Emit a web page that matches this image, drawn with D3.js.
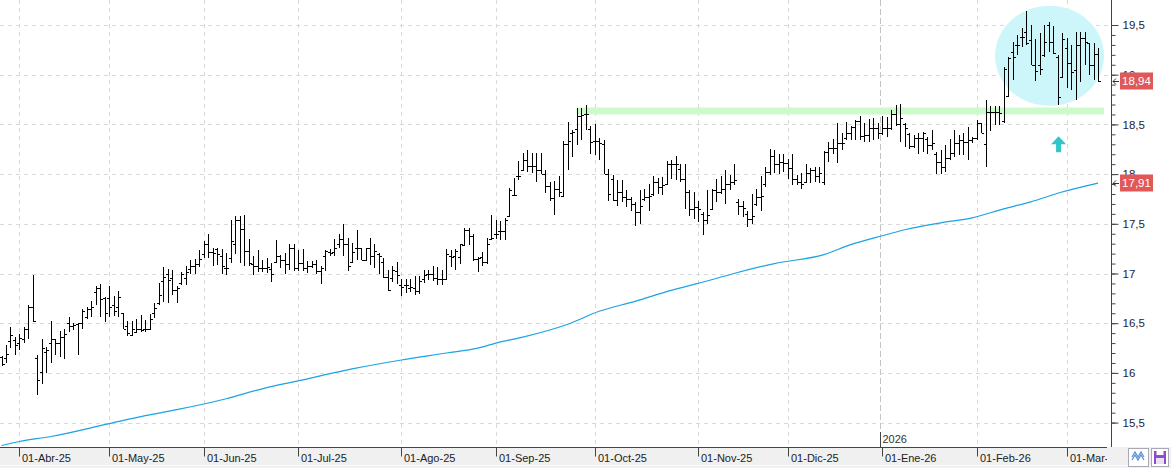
<!DOCTYPE html>
<html lang="es">
<head>
<meta charset="utf-8">
<title>Grafico de barras diario</title>
<script src="https://cdn.jsdelivr.net/npm/d3@7"></script>
<style>
body { margin: 0; background: #fff; }
svg { display: block; font-family: "Liberation Sans", Arial, sans-serif; }
</style>
</head>
<body>
<script>
// sesiones: dias laborables entre estas fechas, sin festivos
var firstDay = "2025-03-26";
var lastDay = "2026-03-11";
var holidays = ["2025-04-18", "2025-04-21", "2025-05-01", "2025-12-25", "2025-12-26", "2026-01-01"];
var monthNames = ["Ene", "Feb", "Mar", "Abr", "May", "Jun", "Jul", "Ago", "Sep", "Oct", "Nov", "Dic"];

var open = [
  16.16,16.15,16.32,16.33,16.30,16.34,16.44,16.66,16.15,16.01,
  16.21,16.30,16.34,16.30,16.36,16.50,16.47,16.49,16.50,16.56,
  16.64,16.81,16.85,16.75,16.75,16.68,16.66,16.60,16.47,16.38,
  16.41,16.44,16.44,16.44,16.60,16.70,16.92,17.00,16.95,16.83,
  16.90,16.95,17.05,17.08,17.10,17.20,17.30,17.22,17.25,17.18,
  17.06,17.16,17.30,17.54,17.45,17.23,17.10,17.08,17.06,17.06,
  17.05,17.12,17.18,17.14,17.10,17.26,17.06,17.11,17.06,17.08,
  17.10,17.03,17.18,17.22,17.22,17.30,17.35,17.30,17.12,17.26,
  17.26,17.14,17.26,17.18,17.20,17.12,16.96,16.95,17.03,16.88,
  16.88,16.85,16.85,16.82,16.94,17.00,17.00,16.95,16.94,16.94,
  17.18,17.18,17.17,17.29,17.44,17.38,17.15,17.17,17.12,17.35,
  17.40,17.43,17.43,17.58,17.79,17.98,18.04,18.14,18.08,18.08,
  18.04,18.00,17.88,17.76,17.85,17.78,18.30,18.41,18.45,18.58,
  18.60,18.45,18.33,18.33,18.30,18.00,17.95,17.74,17.82,17.77,
  17.75,17.70,17.62,17.75,17.77,17.80,17.92,17.87,17.90,18.10,
  18.10,18.05,17.95,17.82,17.65,17.67,17.60,17.54,17.65,17.84,
  17.82,17.85,17.90,17.92,17.72,17.68,17.60,17.55,17.70,17.77,
  17.90,18.02,18.18,18.10,18.12,18.11,18.06,17.95,17.92,17.92,
  18.01,18.04,17.98,17.92,18.22,18.26,18.26,18.31,18.36,18.41,
  18.47,18.53,18.38,18.39,18.46,18.46,18.41,18.46,18.46,18.60,
  18.50,18.50,18.40,18.28,18.36,18.36,18.35,18.29,18.20,18.12,
  18.07,18.16,18.21,18.31,18.34,18.32,18.34,18.36,18.51,18.30,
  18.62,18.62,18.62,18.53,18.79,19.23,19.30,19.38,19.43,19.35,
  19.10,19.10,19.20,19.50,19.33,19.18,18.98,19.27,19.12,19.05,
  19.30,19.37,19.32,19.10,19.21
];
var high = [
  16.17,16.28,16.46,16.36,16.39,16.46,16.68,16.98,16.18,16.34,
  16.26,16.52,16.34,16.42,16.44,16.56,16.50,16.50,16.64,16.66,
  16.72,16.87,16.89,16.76,16.87,16.77,16.82,16.60,16.52,16.52,
  16.54,16.58,16.53,16.59,16.70,16.90,17.07,17.05,17.04,16.87,
  17.02,17.08,17.14,17.15,17.24,17.33,17.40,17.26,17.26,17.25,
  17.21,17.54,17.58,17.58,17.59,17.35,17.18,17.24,17.14,17.16,
  17.11,17.34,17.19,17.21,17.30,17.30,17.24,17.25,17.13,17.13,
  17.14,17.08,17.24,17.25,17.35,17.40,17.50,17.36,17.31,17.44,
  17.26,17.26,17.36,17.30,17.21,17.16,17.04,17.08,17.12,16.94,
  16.94,16.94,16.97,16.97,17.04,17.04,17.08,17.07,17.04,17.25,
  17.24,17.25,17.30,17.46,17.46,17.40,17.17,17.22,17.36,17.59,
  17.54,17.53,17.56,17.86,17.96,18.13,18.21,18.24,18.21,18.21,
  18.21,18.04,17.92,17.93,17.98,18.33,18.52,18.44,18.66,18.66,
  18.70,18.48,18.50,18.36,18.34,18.05,17.99,17.94,17.94,17.84,
  17.77,17.72,17.84,17.85,17.90,17.98,17.96,17.97,18.13,18.14,
  18.18,18.10,18.10,17.84,17.82,17.73,17.62,17.84,17.85,17.95,
  17.98,18.04,17.99,18.10,17.75,17.73,17.63,17.80,17.85,17.98,
  18.07,18.25,18.24,18.20,18.20,18.15,18.20,17.99,18.01,18.10,
  18.06,18.07,18.07,18.23,18.32,18.35,18.51,18.41,18.52,18.48,
  18.54,18.58,18.51,18.55,18.56,18.51,18.58,18.57,18.64,18.70,
  18.71,18.51,18.41,18.39,18.41,18.42,18.37,18.44,18.22,18.24,
  18.29,18.35,18.44,18.39,18.41,18.47,18.37,18.54,18.51,18.75,
  18.69,18.69,18.69,19.08,19.18,19.33,19.40,19.47,19.64,19.50,
  19.36,19.42,19.50,19.53,19.49,19.20,19.42,19.37,19.30,19.43,
  19.43,19.43,19.32,19.32,19.27
];
var low = [
  16.07,16.10,16.25,16.18,16.23,16.30,16.34,16.51,15.78,15.89,
  16.00,16.10,16.18,16.16,16.14,16.41,16.43,16.18,16.44,16.54,
  16.56,16.68,16.56,16.51,16.56,16.57,16.56,16.44,16.37,16.37,
  16.41,16.41,16.41,16.44,16.55,16.68,16.71,16.70,16.78,16.70,
  16.88,16.88,17.00,17.00,17.07,17.16,17.16,17.08,17.09,16.99,
  16.98,17.11,17.20,17.11,17.08,17.08,16.98,17.02,17.02,17.01,
  16.91,17.11,17.06,16.99,17.04,17.03,17.03,17.03,17.01,17.06,
  17.00,16.89,17.03,17.18,17.18,17.26,17.18,17.03,17.11,17.14,
  17.14,17.14,17.09,17.06,17.00,16.95,16.82,16.91,16.89,16.77,
  16.80,16.81,16.78,16.79,16.90,16.93,16.92,16.88,16.88,16.93,
  17.07,17.04,17.10,17.29,17.29,17.13,17.02,17.08,17.10,17.34,
  17.35,17.34,17.34,17.57,17.78,17.94,18.04,18.02,18.01,17.92,
  18.00,17.81,17.73,17.59,17.77,17.77,18.04,18.17,18.29,18.34,
  18.44,18.20,18.19,18.14,18.00,17.73,17.73,17.68,17.72,17.67,
  17.63,17.48,17.50,17.73,17.63,17.78,17.80,17.79,17.90,17.95,
  17.94,17.92,17.65,17.58,17.55,17.52,17.39,17.50,17.65,17.72,
  17.80,17.70,17.84,17.89,17.59,17.57,17.47,17.50,17.68,17.63,
  17.87,17.99,18.01,18.00,18.02,17.95,17.89,17.89,17.85,17.92,
  17.91,17.92,17.91,17.89,18.12,18.20,18.11,18.24,18.34,18.34,
  18.34,18.34,18.32,18.32,18.34,18.35,18.39,18.37,18.44,18.48,
  18.32,18.27,18.25,18.26,18.20,18.22,18.20,18.24,18.00,18.00,
  18.02,18.14,18.17,18.19,18.19,18.14,18.31,18.34,18.41,18.07,
  18.43,18.49,18.49,18.51,18.79,18.95,19.20,19.28,19.30,19.10,
  18.94,19.00,19.18,19.23,19.21,18.70,18.97,18.87,18.85,18.75,
  18.93,19.10,19.00,18.95,18.93
];
var close = [
  16.09,16.19,16.38,16.28,16.35,16.44,16.66,16.52,15.93,16.25,
  16.23,16.34,16.30,16.36,16.39,16.47,16.48,16.50,16.62,16.64,
  16.66,16.85,16.74,16.60,16.66,16.62,16.76,16.44,16.40,16.44,
  16.44,16.43,16.44,16.54,16.65,16.78,16.96,16.93,16.83,16.85,
  16.99,17.02,17.08,17.10,17.15,17.30,17.22,17.21,17.20,17.08,
  17.06,17.33,17.54,17.45,17.23,17.11,17.08,17.06,17.06,17.07,
  17.00,17.18,17.14,17.10,17.26,17.06,17.11,17.06,17.08,17.10,
  17.03,17.06,17.23,17.21,17.26,17.35,17.30,17.08,17.22,17.26,
  17.14,17.26,17.18,17.23,17.18,16.96,16.83,17.04,16.98,16.86,
  16.88,16.86,16.82,16.92,16.98,17.00,16.95,16.94,16.94,17.20,
  17.17,17.23,17.30,17.44,17.38,17.15,17.16,17.12,17.30,17.36,
  17.40,17.43,17.54,17.84,17.79,17.98,18.14,18.08,18.08,18.04,
  18.00,17.88,17.76,17.85,17.82,18.30,18.33,18.42,18.58,18.59,
  18.60,18.32,18.33,18.31,18.00,17.80,17.74,17.82,17.77,17.75,
  17.70,17.62,17.68,17.77,17.78,17.92,17.87,17.89,18.10,18.10,
  18.10,17.95,17.82,17.65,17.67,17.65,17.54,17.59,17.84,17.82,
  17.85,17.90,17.92,17.94,17.68,17.66,17.55,17.58,17.77,17.78,
  18.02,18.18,18.10,18.12,18.11,18.06,17.95,17.92,17.90,18.01,
  18.04,17.98,18.01,18.22,18.26,18.26,18.31,18.31,18.41,18.47,
  18.53,18.38,18.39,18.46,18.46,18.41,18.46,18.46,18.60,18.50,
  18.56,18.46,18.28,18.36,18.36,18.41,18.29,18.31,18.12,18.07,
  18.16,18.21,18.31,18.34,18.32,18.34,18.36,18.51,18.41,18.62,
  18.62,18.62,18.61,19.06,19.17,19.18,19.30,19.38,19.32,19.10,
  19.04,19.06,19.33,19.33,19.22,18.78,19.36,19.12,19.03,19.30,
  19.37,19.33,19.10,19.21,18.94
];

var maSession = [0, 4, 11, 24, 32, 39, 50, 58, 66, 78, 89, 99, 106, 110, 116, 126, 133, 141, 149, 155, 163, 172, 183, 189, 196, 201, 209, 216, 223, 229, 236, 244];
var maValue = [15.27, 15.31, 15.36, 15.49, 15.57, 15.63, 15.74, 15.84, 15.92, 16.04, 16.13, 16.20, 16.25, 16.30, 16.36, 16.49, 16.62, 16.72, 16.83, 16.90, 17.00, 17.10, 17.19, 17.29, 17.38, 17.44, 17.51, 17.56, 17.65, 17.72, 17.82, 17.91];

var yTicks = [15.5, 16, 16.5, 17, 17.5, 18, 18.5, 19, 19.5];
var resistance = [18.60, 18.67];

var w = 1171, h = 468;
var plotRight = 1111, plotBottom = 447;

// fechas de sesion
var parse = d3.timeParse("%Y-%m-%d"), fmt = d3.timeFormat("%Y-%m-%d");
var dates = [];
d3.timeDay.range(parse(firstDay), d3.timeDay.offset(parse(lastDay), 1)).forEach(function(d) {
  var wd = d.getDay();
  if (wd !== 0 && wd !== 6 && holidays.indexOf(fmt(d)) < 0) dates.push(fmt(d));
});

var bars = dates.map(function(d, i) {
  return { date: d, o: open[i], h: high[i], l: low[i], c: close[i] };
});

// primera sesion de cada mes
var monthStarts = dates.filter(function(d, i) {
  return i > 0 && d.slice(5, 7) !== dates[i - 1].slice(5, 7);
});

var x = d3.scalePoint().domain(dates).range([1.5, 1098]);
var y = d3.scaleLinear().domain([15.5, 19.5]).range([422.6, 25]);
var px = function(d) { return Math.round(x(d)) + 0.5; };

var svg = d3.select("body").append("svg")
  .attr("width", w)
  .attr("height", h);

svg.append("rect").attr("width", w).attr("height", h).attr("fill", "#fff");

svg.append("clipPath").attr("id", "plot")
  .append("rect").attr("x", 0).attr("y", 0).attr("width", plotRight).attr("height", plotBottom);

var plot = svg.append("g").attr("clip-path", "url(#plot)");

// rejilla
plot.selectAll("line.hgrid")
  .data(yTicks)
  .enter().append("line")
  .attr("class", "hgrid")
  .attr("x1", 0).attr("x2", plotRight)
  .attr("y1", function(d) { return Math.round(y(d)) + 0.5; })
  .attr("y2", function(d) { return Math.round(y(d)) + 0.5; })
  .attr("stroke", "#d9d9d9")
  .attr("stroke-dasharray", "4,4");

plot.selectAll("line.vgrid")
  .data(monthStarts.filter(function(d) { return d.slice(5, 7) !== "01"; }))
  .enter().append("line")
  .attr("class", "vgrid")
  .attr("x1", px)
  .attr("x2", px)
  .attr("y1", 0).attr("y2", plotBottom)
  .attr("stroke", "#d9d9d9")
  .attr("stroke-dasharray", "4,4");

// separador de año
var yearStart = monthStarts.filter(function(d) { return d.slice(5, 7) === "01"; })[0];
var xYear = Math.round(x(yearStart)) - 1.5;
plot.append("line")
  .attr("x1", xYear).attr("x2", xYear)
  .attr("y1", 0).attr("y2", plotBottom)
  .attr("stroke", "#c4c4c4")
  .attr("stroke-dasharray", "6,3");
plot.append("line")
  .attr("x1", xYear).attr("x2", xYear)
  .attr("y1", plotBottom - 15).attr("y2", plotBottom)
  .attr("stroke", "#444");
plot.append("text")
  .attr("x", xYear + 2).attr("y", plotBottom - 4)
  .attr("font-size", "11px")
  .attr("fill", "#333")
  .text(yearStart.slice(0, 4));

// zona de resistencia y circulo
plot.append("rect")
  .attr("x", x(dates[128]))
  .attr("width", plotRight - 7 - x(dates[128]))
  .attr("y", y(resistance[1]))
  .attr("height", y(resistance[0]) - y(resistance[1]))
  .attr("fill", "#ccfacb");

plot.append("ellipse")
  .attr("cx", x(dates[233]) + 1)
  .attr("cy", y(19.19))
  .attr("rx", 54.5).attr("ry", 50)
  .attr("fill", "#ccf6fa");

// media movil
plot.append("path")
  .datum(maSession)
  .attr("fill", "none")
  .attr("stroke", "#1ba3e4")
  .attr("stroke-width", 1.2)
  .attr("d", d3.line()
    .curve(d3.curveMonotoneX)
    .x(function(d) { return x(dates[d]); })
    .y(function(d, i) { return y(maValue[i]); }));

// barras OHLC
var bar = plot.selectAll("g.bar")
  .data(bars)
  .enter().append("g")
  .attr("class", "bar")
  .attr("stroke", "#000")
  .attr("shape-rendering", "crispEdges");

bar.append("line")
  .attr("x1", function(d) { return px(d.date); })
  .attr("x2", function(d) { return px(d.date); })
  .attr("y1", function(d) { return Math.round(y(d.h)); })
  .attr("y2", function(d) { return Math.round(y(d.l)); })
  .attr("stroke-width", 1.6);

bar.append("line")
  .attr("x1", function(d) { return px(d.date) - 2.5; })
  .attr("x2", function(d) { return px(d.date); })
  .attr("y1", function(d) { return Math.round(y(d.o)) + 0.5; })
  .attr("y2", function(d) { return Math.round(y(d.o)) + 0.5; });

bar.append("line")
  .attr("x1", function(d) { return px(d.date); })
  .attr("x2", function(d) { return px(d.date) + 2.5; })
  .attr("y1", function(d) { return Math.round(y(d.c)) + 0.5; })
  .attr("y2", function(d) { return Math.round(y(d.c)) + 0.5; });

// flecha
var ax = x(dates[235]) + 1, aTop = y(18.38), aBot = y(18.22);
plot.append("path")
  .attr("d", "M" + ax + "," + aTop + "L" + (ax + 7.5) + "," + (aTop + 8) + "L" + (ax + 2.5) + "," + (aTop + 8) +
    "L" + (ax + 2.5) + "," + aBot + "L" + (ax - 2.5) + "," + aBot + "L" + (ax - 2.5) + "," + (aTop + 8) +
    "L" + (ax - 7.5) + "," + (aTop + 8) + "Z")
  .attr("fill", "#33c6c9");

// franja inferior
svg.append("rect")
  .attr("x", 0).attr("y", plotBottom)
  .attr("width", w).attr("height", h - plotBottom)
  .attr("fill", "#f0f0f0");
svg.append("line")
  .attr("x1", 0).attr("x2", w)
  .attr("y1", h - 2.5).attr("y2", h - 2.5)
  .attr("stroke", "#fafafa");

// eje x (recortado antes del eje derecho)
svg.append("clipPath").attr("id", "xlab")
  .append("rect").attr("x", 0).attr("y", plotBottom - 2).attr("width", plotRight - 4).attr("height", h - plotBottom + 2);

var xAxis = svg.append("g")
  .attr("clip-path", "url(#xlab)")
  .append("g")
  .attr("transform", "translate(0," + (plotBottom + 0.5) + ")")
  .call(d3.axisBottom(x)
    .tickValues(monthStarts)
    .tickSize(9)
    .tickSizeOuter(0)
    .tickFormat(function(d) {
      return "01-" + monthNames[+d.slice(5, 7) - 1] + "-" + d.slice(2, 4);
    }));
xAxis.select(".domain").attr("stroke", "#444").attr("d", "M0,0H" + plotRight);
xAxis.selectAll(".tick").attr("transform", function(d) { return "translate(" + (px(d) - 0.5) + ",0)"; });
xAxis.selectAll(".tick line").attr("stroke", "#444").attr("x1", 0.5).attr("x2", 0.5);
xAxis.selectAll(".tick text")
  .attr("text-anchor", "start")
  .attr("x", 3)
  .attr("y", 7)
  .attr("fill", "#222")
  .attr("font-family", "Liberation Sans, Arial, sans-serif")
  .attr("font-size", "11px");

// eje y a la derecha
var minorTicks = d3.range(155, 196).map(function(d) { return d / 10; });
svg.append("g")
  .attr("transform", "translate(" + (plotRight + 0.5) + ",0)")
  .call(d3.axisRight(y).tickValues(minorTicks).tickSize(4).tickSizeOuter(0).tickFormat(""))
  .call(function(g) {
    g.select(".domain").attr("stroke", "#444").attr("d", "M0,0V" + plotBottom);
    g.selectAll(".tick line").attr("stroke", "#444");
  });

var yAxis = svg.append("g")
  .attr("transform", "translate(" + (plotRight + 0.5) + ",0)")
  .call(d3.axisRight(y)
    .tickValues(yTicks)
    .tickSize(7)
    .tickPadding(4)
    .tickFormat(function(d) { return String(d).replace(".", ","); }));
yAxis.select(".domain").remove();
yAxis.selectAll(".tick line").attr("stroke", "#444");
yAxis.selectAll(".tick text")
  .attr("fill", "#22223a")
  .attr("font-family", "Liberation Sans, Arial, sans-serif")
  .attr("font-size", "11.5px");

// etiquetas de ultimo valor
var lastValues = [close[close.length - 1], maValue[maValue.length - 1]];
var tag = svg.selectAll("g.tag")
  .data(lastValues)
  .enter().append("g")
  .attr("class", "tag")
  .attr("transform", function(d) { return "translate(0," + Math.round(y(d)) + ")"; });

tag.append("rect")
  .attr("x", plotRight + 9).attr("y", -8.5)
  .attr("width", 33).attr("height", 17)
  .attr("fill", "#e05858");
tag.append("text")
  .attr("x", plotRight + 25.5).attr("y", 4)
  .attr("text-anchor", "middle")
  .attr("fill", "#fff")
  .attr("font-size", "11.5px")
  .text(function(d) { return d3.format(".2f")(d).replace(".", ","); });
tag.append("path")
  .attr("d", "M" + (plotRight + 8) + ",0.5H" + (plotRight + 2) + "M" + (plotRight + 5) + ",-2.5L" + (plotRight + 2) + ",0.5L" + (plotRight + 5) + ",3.5")
  .attr("fill", "none")
  .attr("stroke", "#333");

// botones
svg.append("rect")
  .attr("x", 1128.5).attr("y", 448.5).attr("width", 20).attr("height", 18)
  .attr("fill", "#fff").attr("stroke", "#a8a8b8");
svg.append("path")
  .attr("d", "M1132,460L1135,455L1138,460L1141,455L1144,460M1132,457L1135,452L1138,457L1141,452L1144,457")
  .attr("fill", "none").attr("stroke", "#5b8fd8").attr("stroke-width", 1.2);
svg.append("rect")
  .attr("x", 1151.5).attr("y", 448.5).attr("width", 17).attr("height", 18)
  .attr("fill", "#fff").attr("stroke", "#a8a8b8");
svg.append("rect")
  .attr("x", 1154).attr("y", 451).attr("width", 12).attr("height", 13)
  .attr("fill", "#8a4fc8");
svg.append("rect")
  .attr("x", 1156.5).attr("y", 451).attr("width", 7).attr("height", 4)
  .attr("fill", "#fff");
svg.append("rect")
  .attr("x", 1156).attr("y", 458).attr("width", 8).attr("height", 6)
  .attr("fill", "#e8e0f4");
</script>
</body>
</html>
